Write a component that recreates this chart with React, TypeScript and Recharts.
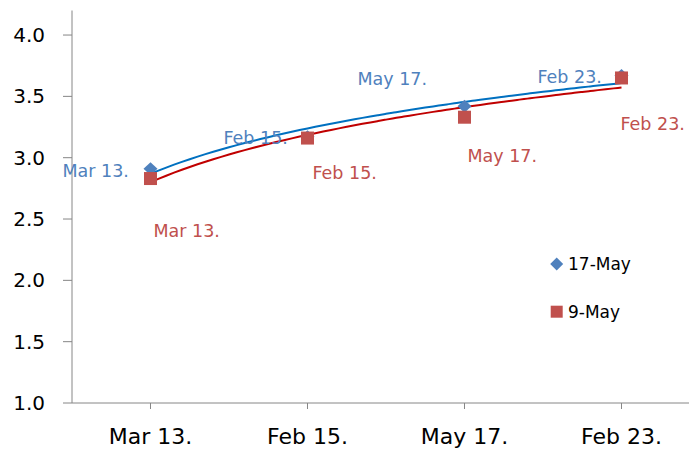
import React from 'react';
import { ComposedChart, XAxis, YAxis, Scatter, Line, Legend } from 'recharts';

if (typeof document !== 'undefined') {
  document.body.style.margin = '0';
}

const categories = ['Mar 13.', 'Feb 15.', 'May 17.', 'Feb 23.'];
const series17MayName = '17-May';
const series9MayName = '9-May';
const series17May = [2.91, 3.17, 3.42, 3.67];
const series9May = [2.83, 3.16, 3.33, 3.65];
const yTicks = [1, 1.5, 2, 2.5, 3, 3.5, 4];

// label offsets (dx to text start, dy to text centre) relative to each marker
const blueLabelOffsets = [[-88, 2], [-84, 1], [-107, -27], [-84, 1]];
const redLabelOffsets = [[3, 52], [5, 35], [3, 38], [-1, 45.5]];

const BLUE = '#4F81BD';
const RED = '#C0504D';
const BLUE_TREND = '#0070C0';
const RED_TREND = '#C00000';
const AXIS = '#868686';
const FONT = '"DejaVu Sans", sans-serif';

const toPoints = (vals: number[]) =>
  vals.map((v, i) => ({ x: i + 0.5, y: v, idx: i, name: categories[i] }));

// Logarithmic trendline (least squares on ln(category number))
const logTrend = (vals: number[]) => {
  const ls = vals.map((_, i) => Math.log(i + 1));
  const n = vals.length;
  const lm = ls.reduce((s, v) => s + v, 0) / n;
  const ym = vals.reduce((s, v) => s + v, 0) / n;
  let num = 0;
  let den = 0;
  for (let i = 0; i < n; i++) {
    num += (ls[i] - lm) * (vals[i] - ym);
    den += (ls[i] - lm) * (ls[i] - lm);
  }
  const b = num / den;
  const a = ym - b * lm;
  const pts: { x: number; y: number }[] = [];
  for (let k = 0; k <= 60; k++) {
    const t = 1 + (k * (n - 1)) / 60;
    pts.push({ x: t - 0.5, y: a + b * Math.log(t) });
  }
  return pts;
};

const blueData = toPoints(series17May);
const redData = toPoints(series9May);
const blueTrend = logTrend(series17May);
const redTrend = logTrend(series9May);

const DiamondShape = (props: any) => {
  const { cx, cy, payload } = props;
  const off = blueLabelOffsets[payload.idx];
  return (
    <g>
      <polygon
        points={`${cx},${cy - 6.5} ${cx + 7},${cy} ${cx},${cy + 6.5} ${cx - 7},${cy}`}
        fill={BLUE}
      />
      <text
        x={cx + off[0]}
        y={cy + off[1]}
        dy="0.36em"
        fill={BLUE}
        fontSize={17.5}
        fontFamily={FONT}
        textAnchor="start"
      >
        {payload.name}
      </text>
    </g>
  );
};

const SquareShape = (props: any) => {
  const { cx, cy, payload } = props;
  const off = redLabelOffsets[payload.idx];
  return (
    <g>
      <rect x={cx - 6.5} y={cy - 6.5} width={13} height={13} fill={RED} />
      <text
        x={cx + off[0]}
        y={cy + off[1]}
        dy="0.36em"
        fill={RED}
        fontSize={17.5}
        fontFamily={FONT}
        textAnchor="start"
      >
        {payload.name}
      </text>
    </g>
  );
};

const LegendContent = () => (
  <svg width={140} height={80} style={{ display: 'block' }}>
    <polygon points="8.7,9.5 15.2,16 8.7,22.5 2.2,16" fill={BLUE} />
    <text x={20} y={16} dy="0.36em" fontSize={17} fontFamily={FONT} fill="#000">
      {series17MayName}
    </text>
    <rect x={2.7} y={57.7} width={12} height={12} fill={RED} />
    <text x={20} y={63.7} dy="0.36em" fontSize={17} fontFamily={FONT} fill="#000">
      {series9MayName}
    </text>
  </svg>
);

export default function App() {
  return (
    <ComposedChart width={689} height={449} margin={{ top: 10.5, right: 0, bottom: 0, left: 8 }}>
      <XAxis
        type="number"
        dataKey="x"
        domain={[0, 3.93]}
        ticks={[0.5, 1.5, 2.5, 3.5]}
        interval={0}
        tickFormatter={(v: number) => categories[Math.round(v - 0.5)]}
        height={46}
        stroke={AXIS}
        tickSize={6}
        tickMargin={19.5}
        tick={{ fill: '#000', fontSize: 22, fontFamily: FONT }}
      />
      <YAxis
        type="number"
        dataKey="y"
        domain={[1, 4.2]}
        ticks={yTicks}
        interval={0}
        width={64}
        stroke={AXIS}
        tickSize={9}
        tickMargin={18}
        tickFormatter={(v: number) => v.toFixed(1)}
        tick={{ fill: '#000', fontSize: 20, fontFamily: FONT }}
      />
      <Scatter name={series17MayName} data={blueData} fill={BLUE} shape={DiamondShape} isAnimationActive={false} />
      <Scatter name={series9MayName} data={redData} fill={RED} shape={SquareShape} isAnimationActive={false} />
      <Line
        data={blueTrend}
        dataKey="y"
        type="monotone"
        stroke={BLUE_TREND}
        strokeWidth={2}
        dot={false}
        activeDot={false}
        legendType="none"
        isAnimationActive={false}
      />
      <Line
        data={redTrend}
        dataKey="y"
        type="monotone"
        stroke={RED_TREND}
        strokeWidth={2}
        dot={false}
        activeDot={false}
        legendType="none"
        isAnimationActive={false}
      />
      <Legend
        layout="horizontal"
        verticalAlign="middle"
        align="center"
        content={LegendContent}
        wrapperStyle={{ left: 548, top: 248, width: 140, height: 80 }}
      />
    </ComposedChart>
  );
}
